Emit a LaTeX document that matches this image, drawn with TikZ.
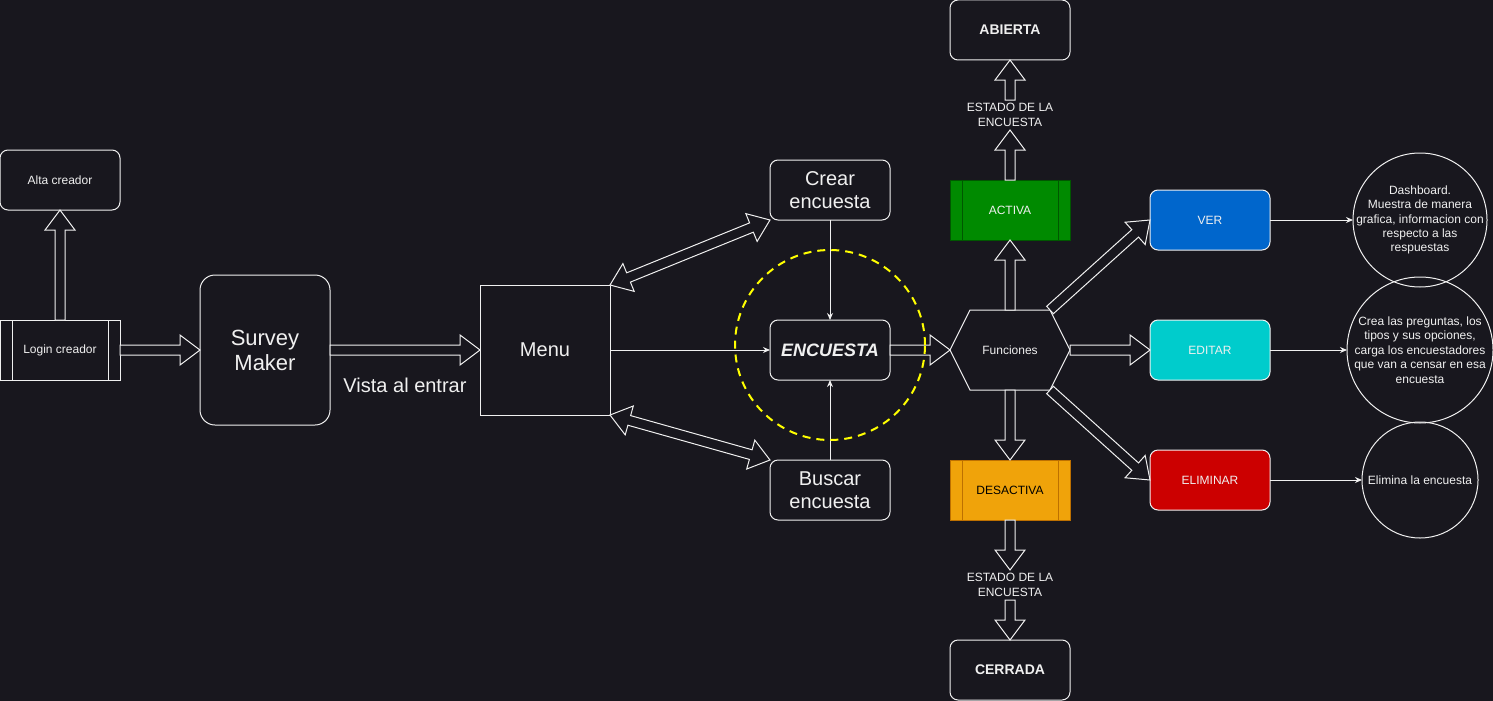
\documentclass[tikz,border=0pt]{standalone}
\usepackage{fontspec}
\setmainfont{Liberation Sans}
\usetikzlibrary{positioning,calc,arrows.meta}

\definecolor{bg}{HTML}{18171E}
\definecolor{fg}{HTML}{F0F0F0}
\definecolor{activafill}{HTML}{008A00}
\definecolor{activaline}{HTML}{005700}
\definecolor{desactivafill}{HTML}{F0A30A}
\definecolor{desactivaline}{HTML}{BD7000}
\definecolor{verfill}{HTML}{0066CC}
\definecolor{editarfill}{HTML}{00CCCC}
\definecolor{eliminarfill}{HTML}{CC0000}
\definecolor{focus}{HTML}{FFFF00}

\newcommand{\flexarrow}[2]{%
  \coordinate (fa-n) at ($(#2)!20pt!(#1)$);
  \draw[flex] ($(#1)!5pt!90:(#2)$) -- ($(fa-n)!5pt!90:(#2)$) -- ($(fa-n)!15pt!90:(#2)$)
    -- (#2) -- ($(fa-n)!15pt!-90:(#2)$) -- ($(fa-n)!5pt!-90:(#2)$)
    -- ($(#1)!5pt!-90:(#2)$) -- cycle;}
\newcommand{\flexboth}[2]{%
  \coordinate (fb-a) at ($(#1)!20pt!(#2)$);
  \coordinate (fb-b) at ($(#2)!20pt!(#1)$);
  \draw[flex] (#1) -- ($(fb-a)!15pt!90:(#2)$) -- ($(fb-a)!5pt!90:(#2)$)
    -- ($(fb-b)!5pt!90:(#2)$) -- ($(fb-b)!15pt!90:(#2)$) -- (#2)
    -- ($(fb-b)!15pt!-90:(#2)$) -- ($(fb-b)!5pt!-90:(#2)$)
    -- ($(fb-a)!5pt!-90:(#2)$) -- ($(fb-a)!15pt!-90:(#2)$) -- cycle;}

\begin{document}
\begin{tikzpicture}[x=1pt, y=-1pt, node distance = 70pt and 80pt,
  nodes = {text=fg, inner sep=0pt, outer sep=0pt, align=center},
  box/.style = {draw=fg, line width=1pt, minimum width=120pt,
    minimum height=60pt, font=\fontsize{12}{14}\selectfont},
  rbox/.style = {box, rounded corners=8pt},
  proc/.style = {box, draw=#1,
    path picture={\draw[#1, line width=1pt]
      ([xshift=12pt]path picture bounding box.north west) -- ([xshift=12pt]path picture bounding box.south west)
      ([xshift=-12pt]path picture bounding box.north east) -- ([xshift=-12pt]path picture bounding box.south east);}},
  big/.style = {font=\fontsize{20}{23}\selectfont},
  strong/.style = {font=\fontsize{14}{17}\selectfont\bfseries},
  estado/.style = {minimum height=30pt, font=\fontsize{12}{15}\selectfont},
  note/.style = {circle, draw=fg, line width=1pt, minimum size=#1},
  notetxt/.style = {font=\fontsize{12}{14.4}\selectfont},
  flex/.style = {draw=fg, fill=bg, line width=1pt},
  arr/.style = {draw=fg, line width=1pt, -{Stealth[length=7pt,width=6pt]}},
  focusring/.style = {circle, draw=focus, line width=2pt,
    dash pattern=on 8pt off 6pt, minimum size=190pt}
  ]
  \fill[bg] (0,0) rectangle (1493,701);
  \useasboundingbox (0,0) rectangle (1493,701);

  \node (login) [proc=fg] at (60,350) {Login creador};
  \node (alta) [rbox, above=110pt of login] {Alta creador};
  \node (survey) [rbox, rounded corners=15pt, minimum width=130pt, minimum height=150pt,
    font=\fontsize{22}{25}\selectfont, right=80pt of login] {Survey\\Maker};
  \node (menu) [box, big, minimum width=130pt, minimum height=130pt, right=150pt of survey] {Menu};
  \node (vista) [big] at ($(survey.east)!.5!(menu.west)+(0,35)$) {Vista al entrar};
  \node (encuesta) [rbox, font=\fontsize{18}{21}\selectfont\bfseries\itshape,
    right=160pt of menu] {ENCUESTA};
  \node (crear) [rbox, big, above=100pt of encuesta] {Crear\\encuesta};
  \node (buscar) [rbox, big, below=80pt of encuesta] {Buscar\\encuesta};
  \node (funciones) [box, draw=none, minimum height=80pt, right=60pt of encuesta] {Funciones};
  \draw[fg, line width=1pt] (funciones.west) -- ([xshift=20pt]funciones.north west)
    -- ([xshift=-20pt]funciones.north east) -- (funciones.east)
    -- ([xshift=-20pt]funciones.south east) -- ([xshift=20pt]funciones.south west) -- cycle;
  \coordinate (fne) at ([xshift=-20pt]funciones.north east);
  \coordinate (fse) at ([xshift=-20pt]funciones.south east);

  \node (activa) [proc=activaline, fill=activafill, above=70pt of funciones] {ACTIVA};
  \node (estado1) [estado, above=50pt of activa] {ESTADO DE LA\\ENCUESTA};
  \node (abierta) [rbox, strong, above=40pt of estado1] {ABIERTA};
  \node (desactiva) [proc=desactivaline, fill=desactivafill, text=black,
    below=70pt of funciones] {DESACTIVA};
  \node (estado2) [estado, below=50pt of desactiva] {ESTADO DE LA\\ENCUESTA};
  \node (cerrada) [rbox, strong, below=40pt of estado2] {CERRADA};

  \node (editar) [rbox, fill=editarfill, right=80pt of funciones] {EDITAR};
  \node (ver) [rbox, fill=verfill, above=70pt of editar] {VER};
  \node (eliminar) [rbox, fill=eliminarfill, below=70pt of editar] {ELIMINAR};

  \node (dash) [note=134pt, right=83pt of ver] {};
  \node (crea) [note=146pt, right=77pt of editar] {};
  \node (elimina) [note=116pt, right=92pt of eliminar] {};
  \node (dashtxt) [notetxt] at (dash) {Dashboard.\\Muestra de manera\\grafica, informacion con\\respecto a las\\respuestas};
  \node (creatxt) [notetxt] at (crea) {Crea las preguntas, los\\tipos y sus opciones,\\carga los encuestadores\\que van a censar en esa\\encuesta};
  \node (eliminatxt) [notetxt] at (elimina) {Elimina la encuesta};

  \flexarrow{login.north}{alta.south}
  \flexarrow{login.east}{survey.west}
  \flexarrow{survey.east}{menu.west}
  \flexboth{menu.north east}{crear.south west}
  \flexboth{menu.south east}{buscar.north west}
  \flexarrow{encuesta.east}{funciones.west}
  \flexarrow{funciones.north}{activa.south}
  \flexarrow{activa.north}{estado1.south}
  \flexarrow{estado1.north}{abierta.south}
  \flexarrow{funciones.south}{desactiva.north}
  \flexarrow{desactiva.south}{estado2.north}
  \flexarrow{estado2.south}{cerrada.north}
  \flexarrow{fne}{ver.west}
  \flexarrow{funciones.east}{editar.west}
  \flexarrow{fse}{eliminar.west}

  \draw[arr] (menu.east) -- (encuesta.west);
  \draw[arr] (crear.south) -- (encuesta.north);
  \draw[arr] (buscar.north) -- (encuesta.south);
  \draw[arr] (ver.east) -- (dash.west);
  \draw[arr] (editar.east) -- (crea.west);
  \draw[arr] (eliminar.east) -- (elimina.west);

  \node (foco) [focusring] at ($(encuesta)+(0,-5)$) {};
\end{tikzpicture}
\end{document}
